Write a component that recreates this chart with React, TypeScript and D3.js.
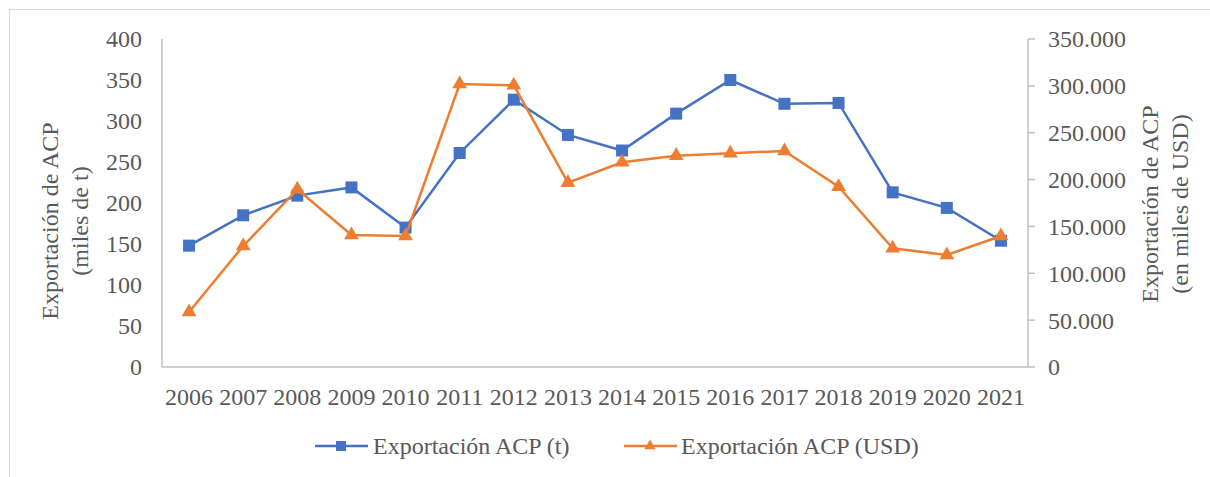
import React from 'react';
import * as d3 from 'd3';

const years = ['2006', '2007', '2008', '2009', '2010', '2011', '2012', '2013', '2014', '2015', '2016', '2017', '2018', '2019', '2020', '2021'];
const toneladas = [148, 185, 209, 219, 170, 261, 326, 283, 264, 309, 350, 321, 322, 213, 194, 154];
const usd = [58700, 129100, 189600, 140900, 139800, 302000, 300600, 196700, 218400, 225500, 228000, 230500, 192400, 126700, 119500, 139800];
const leftTicks = [0, 50, 100, 150, 200, 250, 300, 350, 400];
const rightTicks = [0, 50000, 100000, 150000, 200000, 250000, 300000, 350000];

const BLUE = '#4472C4';
const ORANGE = '#ED7D31';
const TEXT = '#595959';
const AXIS = '#bfbfbf';
const FS = 24;
const fontStyle = { fontFamily: 'Liberation Serif' };

const fmt = (v: number) => (v === 0 ? '0' : d3.format(',')(v).replace(/,/g, '.'));

const T = (props: any) => (
  <text dy="0.35em" fontSize={FS} fill={TEXT} style={fontStyle} {...props} />
);

const App = () => {
  const W = 1210, H = 477;
  const left = 162, right = 1028, top = 39, bottom = 367;

  const x = d3.scaleBand<string>().domain(years).range([left, right]);
  const yL = d3.scaleLinear().domain([0, 400]).range([bottom, top]);
  const yR = d3.scaleLinear().domain([0, 350000]).range([bottom, top]);
  const cx = (d: string) => (x(d) as number) + x.bandwidth() / 2;

  const lineT = d3.line<number>().x((_, i) => cx(years[i])).y(d => yL(d));
  const lineU = d3.line<number>().x((_, i) => cx(years[i])).y(d => yR(d));
  const tri = d3.symbol().type(d3.symbolTriangle).size(95)();
  const triSmall = d3.symbol().type(d3.symbolTriangle).size(55)();

  const legY = 446;

  return (
    <svg width={W} height={H} style={{ position: 'absolute', left: 0, top: 0, background: '#fff' }}>
      <rect x={9.5} y={9.5} width={1230} height={500} fill="#fff" stroke="#d9d9d9" />

      {/* axes */}
      <line x1={left} x2={left} y1={top} y2={bottom} stroke={AXIS} strokeWidth={1.5} />
      <line x1={left} x2={right} y1={bottom} y2={bottom} stroke={AXIS} strokeWidth={1.5} />
      <line x1={right} x2={right} y1={top} y2={bottom} stroke={AXIS} strokeWidth={1.5} />

      {leftTicks.map(t => (
        <T key={t} x={142} y={yL(t)} textAnchor="end">{t}</T>
      ))}
      {rightTicks.map(t => (
        <g key={t}>
          <line x1={right} x2={right + 7} y1={yR(t)} y2={yR(t)} stroke={AXIS} strokeWidth={1.5} />
          <T x={1048} y={yR(t)} textAnchor="start">{fmt(t)}</T>
        </g>
      ))}
      {years.map(yr => (
        <T key={yr} x={cx(yr)} y={397} textAnchor="middle">{yr}</T>
      ))}

      {/* axis titles */}
      <T transform="translate(50,221) rotate(-90)" textAnchor="middle">Exportación de ACP</T>
      <T transform="translate(80,221) rotate(-90)" textAnchor="middle">(miles de t)</T>
      <T transform="translate(1150,204) rotate(-90)" textAnchor="middle">Exportación de ACP</T>
      <T transform="translate(1180,204) rotate(-90)" textAnchor="middle">(en miles de USD)</T>

      {/* series */}
      <path d={lineT(toneladas) || ''} fill="none" stroke={BLUE} strokeWidth={2.5} />
      {toneladas.map((v, i) => (
        <rect key={i} x={cx(years[i]) - 6} y={yL(v) - 6} width={12} height={12} fill={BLUE} />
      ))}
      <path d={lineU(usd) || ''} fill="none" stroke={ORANGE} strokeWidth={2.5} />
      {usd.map((v, i) => (
        <path key={i} d={tri || ''} transform={`translate(${cx(years[i])},${yR(v)})`} fill={ORANGE} />
      ))}

      {/* legend */}
      <line x1={315} x2={368} y1={legY} y2={legY} stroke={BLUE} strokeWidth={2.5} />
      <rect x={336} y={legY - 5} width={10} height={10} fill={BLUE} />
      <T x={373} y={legY}>Exportación ACP (t)</T>
      <line x1={624} x2={677} y1={legY} y2={legY} stroke={ORANGE} strokeWidth={2.5} />
      <path d={triSmall || ''} transform={`translate(650,${legY})`} fill={ORANGE} />
      <T x={681} y={legY}>Exportación ACP (USD)</T>
    </svg>
  );
};

export default App;
